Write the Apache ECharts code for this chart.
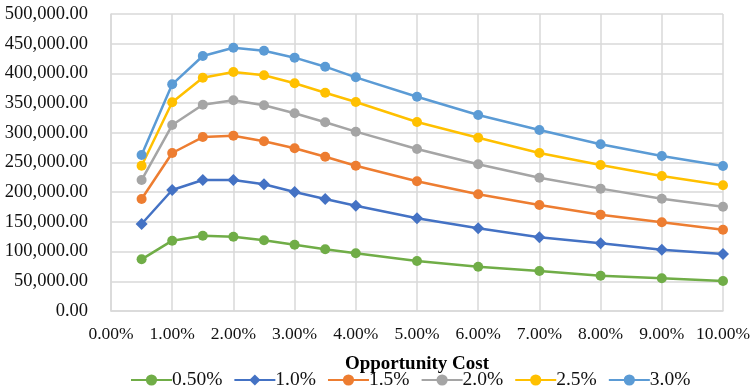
<!DOCTYPE html>
<html><head><meta charset="utf-8">
<script src="https://cdn.jsdelivr.net/npm/echarts@6/dist/echarts.min.js"></script>
<style>html,body{margin:0;padding:0;background:#fff}#c{width:756px;height:390px}</style>
</head><body><div id="c"></div>
<script>
var xValues = [0.5, 1, 1.5, 2, 2.5, 3, 3.5, 4, 5, 6, 7, 8, 9, 10];
var seriesNames = ['0.50%', '1.0%', '1.5%', '2.0%', '2.5%', '3.0%'];
var s050 = [87000, 118400, 126800, 125100, 119000, 111600, 103900, 97100, 84200, 74600, 67300, 59400, 55000, 50500];
var s100 = [146500, 203700, 220500, 220500, 213300, 200300, 188600, 177300, 156000, 139200, 124100, 114000, 103200, 96000];
var s150 = [188600, 266000, 292900, 295200, 285700, 273900, 259800, 244600, 218300, 196400, 178500, 162200, 149300, 136900];
var s200 = [220500, 313100, 347300, 354700, 346300, 332800, 317700, 301900, 272700, 247000, 224400, 206000, 189100, 175600];
var s250 = [244600, 351300, 392800, 402400, 396800, 383300, 367500, 351900, 318200, 291800, 266000, 245800, 227300, 211600];
var s300 = [262600, 381600, 429300, 443300, 438200, 426500, 411300, 393400, 360800, 330000, 304700, 280600, 261000, 244100];
var allSeries = [s050, s100, s150, s200, s250, s300];
var colors = ['#70AD47', '#4472C4', '#ED7D31', '#A5A5A5', '#FFC000', '#5B9BD5'];
var symbols = ['circle', 'diamond', 'circle', 'circle', 'circle', 'circle'];

var chart = echarts.init(document.getElementById('c'));
var font = '"Liberation Serif", "Times New Roman", serif';
chart.setOption({
  animation: false,
  color: colors,
  grid: {left: 111, right: 33, top: 14, bottom: 79, containLabel: false},
  xAxis: {
    type: 'value', min: 0, max: 10, interval: 1,
    name: 'Opportunity Cost', nameLocation: 'middle', nameGap: 44,
    nameTextStyle: {fontFamily: font, fontSize: 19, fontWeight: 'bold', color: '#000'},
    axisLine: {show: true, lineStyle: {color: '#d9d9d9', width: 1.5}},
    axisTick: {show: false},
    splitLine: {show: true, lineStyle: {color: '#d9d9d9', width: 1.5}},
    axisLabel: {fontFamily: font, fontSize: 17.5, color: '#111', margin: 14,
      formatter: function (v) { return v.toFixed(2) + '%'; }}
  },
  yAxis: {
    type: 'value', min: 0, max: 500000, interval: 50000,
    axisLine: {show: true, lineStyle: {color: '#d9d9d9', width: 1.5}},
    axisTick: {show: false},
    splitLine: {show: true, lineStyle: {color: '#d9d9d9', width: 1.5}},
    axisLabel: {fontFamily: font, fontSize: 18.5, color: '#111', margin: 23,
      formatter: function (v) { return v.toLocaleString('en-US', {minimumFractionDigits: 2, maximumFractionDigits: 2}); }}
  },
  legend: {
    top: 370, left: 130, padding: 0, itemWidth: 41, itemHeight: 14, itemGap: 11,
    textStyle: {fontFamily: font, fontSize: 19.5, color: '#111', padding: [0, 0, 0, -5]},
    data: seriesNames
  },
  series: seriesNames.map(function (n, i) {
    return {
      name: n, type: 'line',
      data: xValues.map(function (x, j) { return [x, allSeries[i][j]]; }),
      symbol: symbols[i], symbolSize: i === 1 ? 12 : 10,
      lineStyle: {width: 2.5, color: colors[i]},
      itemStyle: {color: colors[i]}
    };
  })
});
</script></body></html>
